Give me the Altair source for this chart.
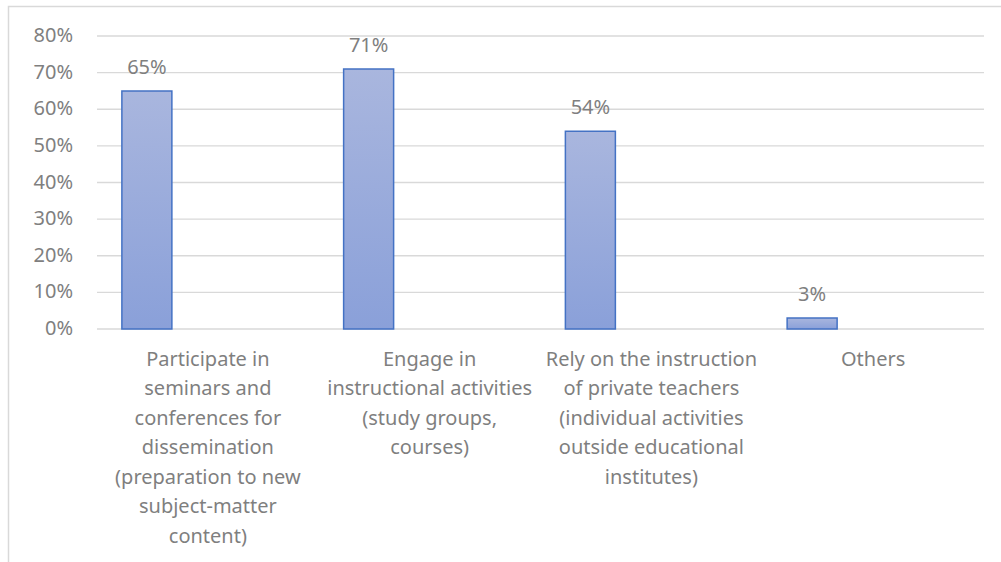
import altair as alt
import pandas as pd

categories = [
    "Participate in\nseminars and\nconferences for\ndissemination\n(preparation to new\nsubject-matter\ncontent)",
    "Engage in\ninstructional activities\n(study groups,\ncourses)",
    "Rely on the instruction\nof private teachers\n(individual activities\noutside educational\ninstitutes)",
    "Others",
]
values = [0.65, 0.71, 0.54, 0.03]
y_ticks = [0, 0.1, 0.2, 0.3, 0.4, 0.5, 0.6, 0.7, 0.8]

df = pd.DataFrame({"cat": categories, "val": values})
df_ticks = pd.DataFrame({"tick": y_ticks})

FONT = "Noto Sans"
TXT = "#7f7f7f"
GRID = "#d9d9d9"

x_scale = alt.Scale(domain=categories, paddingInner=0, paddingOuter=0)
y_scale = alt.Scale(domain=[0, 0.8], nice=False, zero=True)

x_axis = alt.Axis(
    title=None,
    labelAngle=0,
    labelExpr="split(datum.label, '\\n')",
    labelFont=FONT,
    labelFontSize=20,
    labelColor=TXT,
    labelLineHeight=29.5,
    labelPadding=20,
    labelBaseline="top",
    labelOverlap=False,
    domain=False,
    ticks=False,
    grid=False,
    labelLimit=400,
)

x_enc = alt.X("cat:N", sort=categories, scale=x_scale, axis=x_axis)
y_enc = alt.Y("val:Q", scale=y_scale, axis=None)

# y gridlines and tick labels, positioned through the shared y scale
grid = alt.Chart(df_ticks).mark_rule(color=GRID, strokeWidth=1.4).encode(
    y=alt.Y("tick:Q", scale=y_scale, axis=None),
    x=alt.value(0),
    x2=alt.value(887),
)
ylabels = alt.Chart(df_ticks).mark_text(
    align="right", baseline="middle", font=FONT, fontSize=20, color=TXT
).encode(
    y=alt.Y("tick:Q", scale=y_scale, axis=None),
    x=alt.value(-24),
    text=alt.Text("tick:Q", format=".0%"),
)

base = alt.Chart(df)

bars = base.mark_bar(
    width=50,
    xOffset=-61,
    stroke="#4472c4",
    strokeWidth=1.5,
    color=alt.Gradient(
        gradient="linear",
        x1=0, x2=0, y1=0, y2=1,
        stops=[
            alt.GradientStop(color="#a9b6de", offset=0),
            alt.GradientStop(color="#8aa0d9", offset=1),
        ],
    ),
).encode(x=x_enc, y=y_enc)

labels = base.mark_text(
    dx=-61,
    dy=-17,
    baseline="alphabetic",
    align="center",
    font=FONT,
    fontSize=20,
    color=TXT,
).encode(
    x=x_enc,
    y=y_enc,
    text=alt.Text("val:Q", format=".0%"),
)

border = alt.Chart(pd.DataFrame({"a": [0]})).mark_rect(
    filled=False, stroke=GRID, strokeWidth=1.5
).encode(
    x=alt.value(-88.5), x2=alt.value(920), y=alt.value(-29.5), y2=alt.value(540)
)

chart = alt.layer(grid, ylabels, bars, labels, border).properties(
    width=887,
    height=293,
    background="white",
    autosize=alt.AutoSizeParams(type="none"),
    padding={"left": 97, "top": 36, "right": 17, "bottom": 233},
).configure_view(strokeWidth=0, stroke="transparent")

chart.save("out.html", embed_options={"renderer": "svg", "actions": False})
